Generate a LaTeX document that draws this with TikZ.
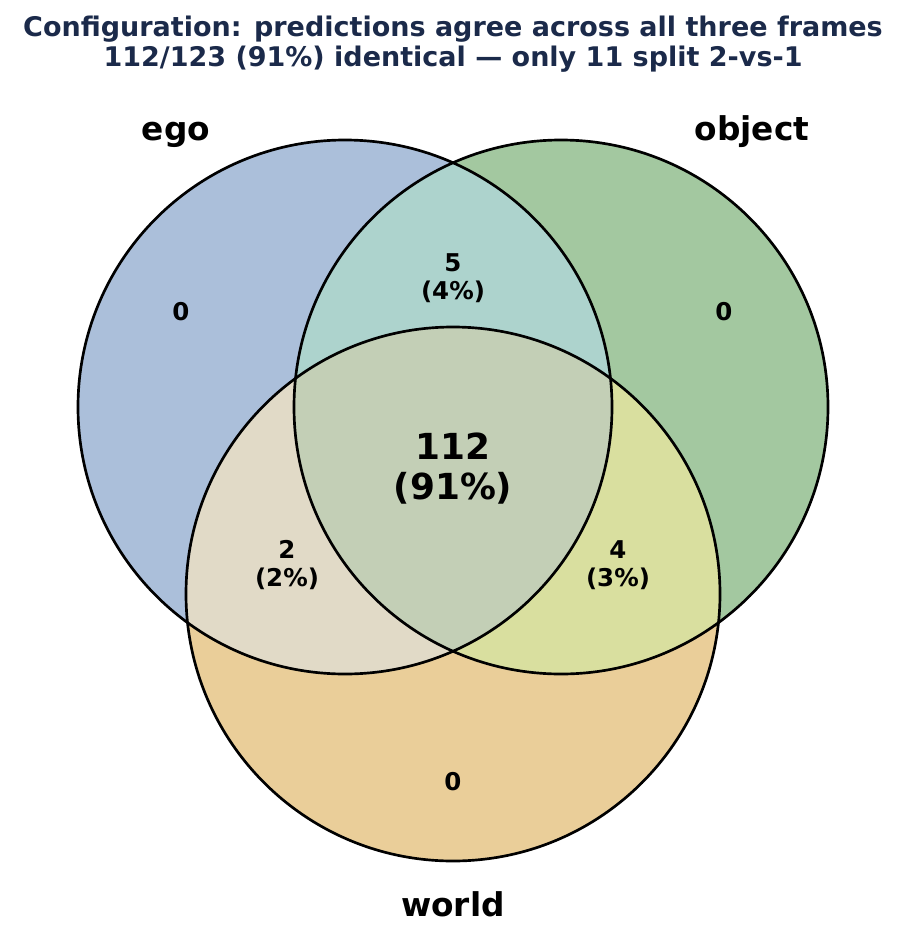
\documentclass[tikz,border=0pt]{standalone}
\usepackage{fontspec}
\setmainfont{DejaVu Sans}
\usepackage{tikz}

\definecolor{egoblue}{HTML}{ABBFDA}
\definecolor{objgreen}{HTML}{A3C8A0}
\definecolor{worldtan}{HTML}{EACE99}
\definecolor{egoobj}{HTML}{ADD3CD}
\definecolor{egoworld}{HTML}{E1DAC7}
\definecolor{objworld}{HTML}{D9DF9F}
\definecolor{allthree}{HTML}{C3CFB6}
\definecolor{titlenavy}{HTML}{1B2A4A}

\tikzset{
  setname/.style={font=\fontsize{23.3}{28}\selectfont\bfseries, anchor=base},
  count/.style={font=\fontsize{17.4}{20}\selectfont\bfseries, align=center},
  bigcount/.style={font=\fontsize{25.5}{28.5}\selectfont\bfseries, align=center},
  rim/.style={draw=black, line width=1.9pt}
}

\begin{document}
\begin{tikzpicture}[x=0.25mm,y=-0.25mm]
\useasboundingbox (0,0) rectangle (906,939);

\node[font=\fontsize{19.2}{21.3}\selectfont\bfseries, text=titlenavy, align=center] (title) at (453,44)
  {Configuration: predictions agree across all three frames\\112/123 (91\%) identical — only 11 split 2-vs-1};

\fill[egoblue] (345,407) circle (267);
\fill[objgreen] (561,407) circle (267);
\fill[worldtan] (453,594) circle (267);
\begin{scope}
  \clip (345,407) circle (267);
  \fill[egoobj] (561,407) circle (267);
  \fill[egoworld] (453,594) circle (267);
\end{scope}
\begin{scope}
  \clip (561,407) circle (267);
  \fill[objworld] (453,594) circle (267);
  \clip (345,407) circle (267);
  \fill[allthree] (453,594) circle (267);
\end{scope}
\draw[rim] (345,407) circle (267);
\draw[rim] (561,407) circle (267);
\draw[rim] (453,594) circle (267);

\node[setname] (ego_text) at (176,140) {ego};
\node[setname] (object_text) at (752,140) {object};
\node[setname] (world_text) at (453,916) {world};

\node[count] (ego_only) at (181,312) {0};
\node[count] (object_only) at (724,312) {0};
\node[count] (world_only) at (453,782) {0};
\node[count] (ego_object) at (453,278) {5\\(4\%)};
\node[count] (ego_world) at (287,565) {2\\(2\%)};
\node[count] (object_world) at (618,565) {4\\(3\%)};
\node[bigcount] (all_three) at (453,469) {112\\(91\%)};
\end{tikzpicture}
\end{document}
